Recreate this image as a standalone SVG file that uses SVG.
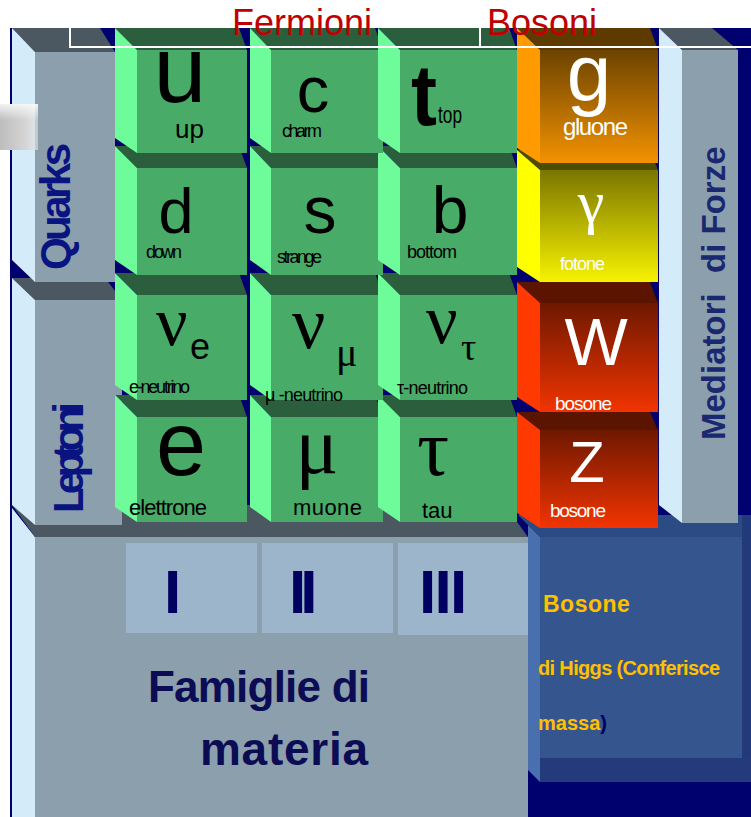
<svg xmlns="http://www.w3.org/2000/svg" width="751" height="817" viewBox="0 0 751 817">
<style>
text{font-family:"Liberation Sans",Arial,sans-serif}
.ser{font-family:"Liberation Serif","Times New Roman",serif}
.gs{fill:#6efc9a}.gt{fill:#2b5e3d}.gf{fill:#48ab68}
.blk{fill:#000}.wht{fill:#fff}
.lbl{font-size:18px}
.side{fill:#d4ecfa}.gtop{fill:#4b5761}.gface{fill:#8b9fad}
.nav{fill:#0a1480;font-weight:bold}
.rom{fill:#000060;font-weight:bold;font-size:62px}
.gold{fill:#ffc000;font-weight:bold}
</style>
<defs>
<linearGradient id="gO" x1="0" y1="0" x2="0" y2="1"><stop offset="0" stop-color="#6b4300"/><stop offset="1" stop-color="#f39200"/></linearGradient>
<linearGradient id="gY" x1="0" y1="0" x2="0" y2="1"><stop offset="0" stop-color="#7a7600"/><stop offset="1" stop-color="#f7f200"/></linearGradient>
<linearGradient id="gR" x1="0" y1="0" x2="0" y2="1"><stop offset="0" stop-color="#6e1800"/><stop offset="1" stop-color="#f23400"/></linearGradient>
<linearGradient id="gG" x1="0" y1="0" x2="1" y2="0"><stop offset="0" stop-color="#bdbdbd"/><stop offset="0.7" stop-color="#d6d6d6"/><stop offset="1" stop-color="#e2e2e2" stop-opacity="0.6"/></linearGradient>
<linearGradient id="gV" x1="0" y1="0" x2="0" y2="1"><stop offset="0" stop-color="#fff" stop-opacity="0.8"/><stop offset="0.35" stop-color="#fff" stop-opacity="0"/></linearGradient>
</defs>
<rect x="0" y="0" width="751" height="817" fill="#fff"/>
<rect x="10" y="28" width="741" height="789" fill="#00006e"/>

<g id="famiglie">
<polygon class="side" points="12,508 35,537 35,817 12,817"/>
<polygon class="gtop" points="12,505 505,505 528,537 35,537"/>
<rect class="gface" x="35" y="537" width="493" height="280"/>
<rect fill="#9cb5ca" x="126" y="543" width="131" height="90"/>
<rect fill="#9cb5ca" x="262" y="543" width="131" height="90"/>
<rect fill="#9cb5ca" x="398" y="543" width="130" height="92"/>
<text class="rom" x="164" y="613">I</text>
<text class="rom" x="289" y="613" letter-spacing="-6">II</text>
<text class="rom" x="419" y="613" letter-spacing="-1.7">III</text>
<text x="148" y="702" font-size="44" font-weight="bold" fill="#0c0c55" textLength="222">Famiglie di</text>
<text x="200" y="765" font-size="46" font-weight="bold" fill="#0c0c55" textLength="168">materia</text>
</g>

<g id="higgs">
<polygon fill="#2c4a84" points="518,515 751,515 751,537 540,537"/>
<polygon fill="#4a6fae" points="528,525 540,537 540,782 528,770"/>
<rect fill="#34558d" x="540" y="537" width="202" height="221"/>
<rect fill="#22397a" x="742" y="515" width="9" height="267"/>
<rect fill="#233b7b" x="540" y="758" width="211" height="24"/>
<text class="gold" x="543" y="612" font-size="23" letter-spacing="0.5">Bosone</text>
<text class="gold" x="538" y="675" font-size="20" textLength="182">di Higgs (Conferisce</text>
<text class="gold" x="538" y="730" font-size="20">massa<tspan fill="#000060">)</tspan></text>
</g>

<g id="mediatori">
<polygon class="gtop" points="659,28 712,28 738,50 682,50"/>
<polygon class="side" points="659,28 682,50 682,523 659,505"/>
<rect class="gface" x="682" y="50" width="56" height="473"/>
<text class="nav" font-size="33" style="fill:#1a2870" transform="translate(725,440) rotate(-90)">Mediatori</text>
<text class="nav" font-size="33" style="fill:#1a2870" transform="translate(725,273) rotate(-90)">di Forze</text>
</g>

<g id="leptoni">
<polygon class="gtop" points="12,278 105,278 122,300 35,300"/>
<polygon class="side" points="12,278 35,300 35,525 12,505"/>
<rect class="gface" x="35" y="300" width="87" height="225"/>
<text class="nav" font-size="42" textLength="111" transform="translate(83,513) rotate(-90)">Leptoni</text>
</g>
<g id="quarks">
<polygon class="gtop" points="12,28 100,28 115,52 35,52"/>
<polygon class="side" points="12,28 35,52 35,282 12,260"/>
<rect class="gface" x="35" y="52" width="80" height="230"/>
<text class="nav" font-size="42" textLength="127" transform="translate(70,270) rotate(-90)">Quarks</text>
</g>

<!-- row 4 -->
<g id="cube-e">
<polygon class="gt" points="115,395 239,395 247,417 137,417"/>
<polygon class="gs" points="115,395 137,417 137,522 115,507"/>
<rect class="gf" x="137" y="417" width="110" height="105"/>
<text class="blk" x="181" y="475" font-size="90" text-anchor="middle">e</text>
<text class="blk" x="129" y="515" font-size="22" textLength="78">elettrone</text>
</g>
<g id="cube-mu">
<polygon class="gt" points="250,395 375,395 383,417 271,417"/>
<polygon class="gs" points="250,395 271,417 271,522 250,507"/>
<rect class="gf" x="271" y="417" width="112" height="105"/>
<text class="blk ser" x="317" y="473" font-size="80" text-anchor="middle">μ</text>
<text class="blk" x="293" y="515" font-size="22" textLength="69">muone</text>
</g>
<g id="cube-tau">
<polygon class="gt" points="378,395 509,395 517,417 400,417"/>
<polygon class="gs" points="378,395 400,417 400,522 378,507"/>
<rect class="gf" x="400" y="417" width="117" height="105"/>
<text class="blk ser" x="433" y="475" font-size="80" text-anchor="middle">τ</text>
<text class="blk" x="422" y="518" font-size="22">tau</text>
</g>
<!-- row 3 -->
<g id="cube-nue">
<polygon class="gt" points="115,273 239,273 247,295 137,295"/>
<polygon class="gs" points="115,273 137,295 137,400 115,385"/>
<rect class="gf" x="137" y="295" width="110" height="105"/>
<text class="blk ser" x="156" y="345" font-size="70">ν</text>
<text class="blk" x="190" y="359" font-size="36">e</text>
<text class="blk lbl" x="129" y="393" textLength="61">e-neutrino</text>
</g>
<g id="cube-numu">
<polygon class="gt" points="250,273 375,273 383,295 271,295"/>
<polygon class="gs" points="250,273 271,295 271,400 250,385"/>
<rect class="gf" x="271" y="295" width="112" height="105"/>
<text class="blk ser" x="292" y="348" font-size="74">ν</text>
<text class="blk ser" x="336" y="366" font-size="40">μ</text>
<text class="blk lbl" x="265" y="401" textLength="78">μ -neutrino</text>
</g>
<g id="cube-nutau">
<polygon class="gt" points="378,273 509,273 517,295 400,295"/>
<polygon class="gs" points="378,273 400,295 400,400 378,385"/>
<rect class="gf" x="400" y="295" width="117" height="105"/>
<text class="blk ser" x="426" y="343" font-size="70">ν</text>
<text class="blk ser" x="461" y="360" font-size="38">τ</text>
<text class="blk lbl" x="397" y="394" textLength="71">τ-neutrino</text>
</g>
<!-- row 2 -->
<g id="cube-d">
<polygon class="gt" points="115,146 239,146 247,168 137,168"/>
<polygon class="gs" points="115,146 137,168 137,275 115,260"/>
<rect class="gf" x="137" y="168" width="110" height="107"/>
<text class="blk" x="176" y="233" font-size="63" text-anchor="middle">d</text>
<text class="blk lbl" x="146" y="258" textLength="36">down</text>
</g>
<g id="cube-s">
<polygon class="gt" points="250,146 375,146 383,168 271,168"/>
<polygon class="gs" points="250,146 271,168 271,275 250,260"/>
<rect class="gf" x="271" y="168" width="112" height="107"/>
<text class="blk" x="320" y="233" font-size="66" text-anchor="middle">s</text>
<text class="blk lbl" x="277" y="263" textLength="45">strange</text>
</g>
<g id="cube-b">
<polygon class="gt" points="378,146 509,146 517,168 400,168"/>
<polygon class="gs" points="378,146 400,168 400,275 378,260"/>
<rect class="gf" x="400" y="168" width="117" height="107"/>
<text class="blk" x="450" y="233" font-size="66" text-anchor="middle">b</text>
<text class="blk lbl" x="407" y="258" textLength="50">bottom</text>
</g>
<!-- row 1 -->
<g id="cube-u">
<polygon class="gt" points="115,28 239,28 247,50 137,50"/>
<polygon class="gs" points="115,28 137,50 137,153 115,138"/>
<rect class="gf" x="137" y="50" width="110" height="103"/>
<text class="blk" x="180" y="102" font-size="95" text-anchor="middle">u</text>
<text class="blk" x="175" y="138" font-size="26">up</text>
</g>
<g id="cube-c">
<polygon class="gt" points="250,28 375,28 383,50 271,50"/>
<polygon class="gs" points="250,28 271,50 271,153 250,138"/>
<rect class="gf" x="271" y="50" width="112" height="103"/>
<text class="blk" x="313" y="112" font-size="65" text-anchor="middle">c</text>
<text class="blk lbl" x="282" y="137" textLength="40">charm</text>
</g>
<g id="cube-t">
<polygon class="gt" points="378,28 509,28 517,50 400,50"/>
<polygon class="gs" points="378,28 400,50 400,153 378,138"/>
<rect class="gf" x="400" y="50" width="117" height="103"/>
<text class="blk" x="411" y="125" font-size="88" font-weight="bold" textLength="26" lengthAdjust="spacingAndGlyphs">t</text>
<text class="blk" x="438" y="123" font-size="24" textLength="24" lengthAdjust="spacingAndGlyphs">top</text>
</g>

<!-- bosons -->
<g id="cube-Z">
<polygon fill="#5a1400" points="517,412 650,412 658,430 540,430"/>
<polygon fill="#ff3a00" points="517,412 540,430 540,528 517,513"/>
<rect fill="url(#gR)" x="540" y="430" width="118" height="98"/>
<text class="wht" x="587" y="482" font-size="58" text-anchor="middle">Z</text>
<text class="wht" x="550" y="517" font-size="19" textLength="56">bosone</text>
</g>
<g id="cube-W">
<polygon fill="#5a1400" points="517,282 650,282 658,303 540,303"/>
<polygon fill="#ff3a00" points="517,282 540,303 540,412 517,397"/>
<rect fill="url(#gR)" x="540" y="303" width="118" height="109"/>
<text class="wht" x="596" y="365" font-size="67" text-anchor="middle">W</text>
<text class="wht" x="555" y="410" font-size="19" textLength="57">bosone</text>
</g>
<g id="cube-gamma">
<polygon fill="#4d4d00" points="517,150 650,150 658,170 540,170"/>
<polygon fill="#ffff00" points="517,150 540,170 540,282 517,267"/>
<rect fill="url(#gY)" x="540" y="170" width="118" height="112"/>
<text class="wht ser" x="591" y="222" font-size="60" text-anchor="middle">γ</text>
<text class="wht lbl" x="560" y="270" textLength="45">fotone</text>
</g>
<g id="cube-g">
<polygon fill="#5c3a00" points="517,28 650,28 658,50 540,50"/>
<polygon fill="#ff9a00" points="517,28 540,50 540,163 517,148"/>
<rect fill="url(#gO)" x="540" y="50" width="118" height="113"/>
<text class="wht" x="589" y="100" font-size="80" text-anchor="middle">g</text>
<text class="wht" x="563" y="135" font-size="24" textLength="65">gluone</text>
</g>

<rect x="0" y="104" width="38" height="46" fill="url(#gG)"/>
<rect x="0" y="104" width="38" height="46" fill="url(#gV)"/>

<g id="connectors" fill="none" stroke="#fff" stroke-width="2">
<path d="M70,14 V47 H751"/>
<path d="M480,28 V47"/>
</g>

<g id="titles" font-size="36" fill="#c00000">
<text x="232" y="35">Fermioni</text>
<text x="487" y="35">Bosoni</text>
</g>
</svg>
